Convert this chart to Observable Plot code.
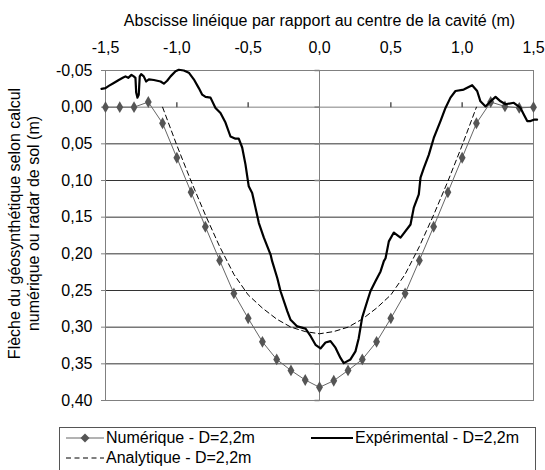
<!DOCTYPE html>
<html>
<head>
<meta charset="utf-8">
<script src="https://cdn.jsdelivr.net/npm/d3@7"></script>
<script src="https://cdn.jsdelivr.net/npm/@observablehq/plot@0.6"></script>
<style>
  html, body { margin: 0; padding: 0; background: #fff; }
  #wrap { position: relative; width: 545px; height: 470px; overflow: hidden; font-family: "Liberation Sans", Arial, sans-serif; }
  #legend { position: absolute; left: 59px; top: 427px; width: 475px; height: 60px; border: 1px solid #555; background: #fff; font-size: 16px; }
  .item { position: absolute; display: flex; align-items: center; white-space: nowrap; }
  .item svg { display: block; }
</style>
</head>
<body>
<div id="wrap"></div>
<script>
// ---- Data ----
const xTicks = [-1.5, -1.0, -0.5, 0.0, 0.5, 1.0, 1.5];
const yTicks = [-0.05, 0.00, 0.05, 0.10, 0.15, 0.20, 0.25, 0.30, 0.35, 0.40];

const numX = [-1.5,-1.4,-1.3,-1.2,-1.1,-1.0,-0.9,-0.8,-0.7,-0.6,-0.5,-0.4,-0.3,-0.2,-0.1,0.0,
              0.1,0.2,0.3,0.4,0.5,0.6,0.7,0.8,0.9,1.0,1.1,1.2,1.3,1.4,1.5];
const numY = [0.000,0.000,0.000,-0.007,0.022,0.069,0.116,0.163,0.209,0.254,0.288,0.320,0.344,0.359,0.372,0.382,
              0.373,0.359,0.344,0.320,0.288,0.254,0.209,0.163,0.116,0.069,0.022,-0.007,-0.001,0.001,0.000];

const anaX = [-1.1,-1.0,-0.9,-0.8,-0.7,-0.6,-0.5,-0.4,-0.3,-0.2,-0.1,0.0,0.1,0.2,0.3,0.4,0.5,0.6,0.7,0.8,0.9,1.0,1.1];
const anaY = [0.000,0.052,0.101,0.147,0.190,0.228,0.256,0.274,0.289,0.300,0.306,0.309,
              0.306,0.300,0.289,0.274,0.256,0.228,0.190,0.147,0.101,0.052,0.000];

const expX = [-1.528,-1.500,-1.477,-1.442,-1.407,-1.379,-1.360,-1.341,-1.318,-1.302,-1.290,-1.285,-1.276,-1.267,-1.260,-1.250,
  -1.232,-1.215,-1.196,-1.161,-1.114,-1.091,-1.068,-1.044,-1.009,-0.986,-0.951,-0.916,-0.881,-0.846,-0.822,-0.799,
  -0.764,-0.729,-0.694,-0.659,-0.624,-0.589,-0.566,-0.542,-0.519,-0.496,-0.472,-0.449,-0.425,-0.390,-0.343,-0.332,
  -0.296,-0.273,-0.226,-0.203,-0.156,-0.098,-0.063,-0.028,0.007,0.042,0.077,0.112,0.147,0.170,0.217,0.252,0.275,
  0.299,0.334,0.357,0.393,0.428,0.451,0.463,0.486,0.521,0.568,0.638,0.661,0.696,0.708,0.731,0.766,0.801,0.848,
  0.883,0.918,0.953,1.011,1.070,1.105,1.128,1.164,1.199,1.234,1.269,1.304,1.362,1.409,1.432,1.456,1.479,1.502,1.525];
const expY = [-0.025,-0.026,-0.029,-0.033,-0.037,-0.040,-0.042,-0.040,-0.044,-0.042,-0.040,-0.020,-0.013,-0.017,-0.042,-0.045,
  -0.042,-0.035,-0.038,-0.037,-0.035,-0.032,-0.036,-0.042,-0.049,-0.051,-0.050,-0.047,-0.038,-0.026,-0.017,-0.014,
  -0.013,0.001,0.008,0.021,0.040,0.043,0.043,0.055,0.078,0.108,0.117,0.137,0.158,0.178,0.201,0.210,
  0.233,0.251,0.278,0.290,0.299,0.302,0.312,0.324,0.329,0.321,0.319,0.328,0.342,0.349,0.344,0.333,0.315,
  0.287,0.265,0.251,0.237,0.224,0.210,0.206,0.183,0.171,0.178,0.160,0.137,0.119,0.096,0.083,0.065,0.042,0.019,
  0.001,-0.013,-0.022,-0.024,-0.030,-0.022,-0.008,-0.001,-0.008,-0.014,-0.008,-0.004,-0.006,0.001,0.010,0.019,0.019,0.017,0.017];

const titleX = "Abscisse linéique par rapport au centre de la cavité (m)";
const titleY = "Flèche du géosynthétique selon calcul\nnumérique ou radar de sol (m)";
const seriesNames = ["Numérique - D=2,2m", "Expérimental - D=2,2m", "Analytique - D=2,2m"];

// ---- Build ----
const num = numX.map((x, i) => ({x, y: numY[i]}));
const ana = anaX.map((x, i) => ({x, y: anaY[i]}));
const exp = expX.map((x, i) => ({x, y: expY[i]}));

const fmt = (d) => (k) => {
  let s = k.toFixed(d).replace(".", ",");
  if (/^-0,0+$/.test(s)) s = s.slice(1);
  return s;
};

const tickLeft = { draw(ctx) { ctx.moveTo(-5, 0); ctx.lineTo(0, 0); } };
const tickUp = { draw(ctx) { ctx.moveTo(0, 0); ctx.lineTo(0, -5); } };
const innerXTicks = xTicks.filter(v => v !== 0 && Math.abs(v) !== 1.5);

const chart = Plot.plot({
  width: 545,
  height: 470,
  marginTop: 70,
  marginLeft: 105,
  marginRight: 12,
  marginBottom: 70,
  style: { fontFamily: "'Liberation Sans', Arial, sans-serif", fontSize: "16px", color: "#000", background: "#fff", overflow: "visible" },
  x: { domain: [-1.5, 1.5] },
  y: { domain: [-0.05, 0.40], reverse: true },
  marks: [
    Plot.ruleY(yTicks.filter(v => v !== 0), { stroke: "#333", strokeWidth: 1 }),
    Plot.ruleY([0], { stroke: "#808080", strokeWidth: 1 }),
    Plot.ruleX([0], { stroke: "#808080", strokeWidth: 1 }),
    Plot.frame({ stroke: "#808080" }),
    Plot.dot(yTicks, { x: () => 0, y: d => d, symbol: tickLeft, stroke: "#808080", fill: "none", r: 3 }),
    Plot.dot(innerXTicks, { x: d => d, y: () => 0, symbol: tickUp, stroke: "#555", fill: "none", r: 3 }),
    Plot.axisX({ anchor: "top", ticks: xTicks, tickSize: 0, tickPadding: 18, tickFormat: fmt(1), label: null }),
    Plot.axisY({ anchor: "left", ticks: yTicks, tickSize: 4, tickPadding: 9, tickFormat: fmt(2), label: null, stroke: "#808080" }),
    Plot.line(ana, { x: "x", y: "y", stroke: "#000", strokeWidth: 1, strokeDasharray: "5,3.5" }),
    Plot.line(num, { x: "x", y: "y", stroke: "#666", strokeWidth: 1 }),
    Plot.dot(num, { x: "x", y: "y", symbol: "diamond", r: 3.6, fill: "#555", stroke: "none" }),
    Plot.line(exp, { x: "x", y: "y", stroke: "#000", strokeWidth: 2.2 }),
    Plot.text([titleX], { frameAnchor: "top", dy: -50, text: d => d, lineAnchor: "middle", textAnchor: "middle", fill: "#000" }),
    Plot.text([titleY], { frameAnchor: "left", dx: -82, dy: -12, text: d => d, rotate: -90, textAnchor: "middle", lineAnchor: "middle", lineHeight: 1.15, fill: "#000" })
  ]
});

const wrap = document.getElementById("wrap");
wrap.appendChild(chart);

// ---- Legend ----
const legend = document.createElement("div");
legend.id = "legend";
const items = [
  { name: seriesNames[0], left: 6, top: 1,
    svg: `<svg width="38" height="12"><line x1="0" y1="6" x2="38" y2="6" stroke="#666" stroke-width="1"/><path d="M19,1.5 L23.5,6 L19,10.5 L14.5,6 Z" fill="#555"/></svg>` },
  { name: seriesNames[1], left: 251, top: 1,
    svg: `<svg width="42" height="12"><line x1="0" y1="6" x2="42" y2="6" stroke="#000" stroke-width="2.2"/></svg>` },
  { name: seriesNames[2], left: 6, top: 21,
    svg: `<svg width="38" height="12"><line x1="0" y1="6" x2="38" y2="6" stroke="#000" stroke-width="1" stroke-dasharray="5,3.5"/></svg>` }
];
for (const it of items) {
  const d = document.createElement("div");
  d.className = "item";
  d.style.left = it.left + "px";
  d.style.top = it.top + "px";
  d.innerHTML = it.svg + `<span style="margin-left:2px">${it.name}</span>`;
  legend.appendChild(d);
}
wrap.appendChild(legend);
</script>
</body>
</html>
